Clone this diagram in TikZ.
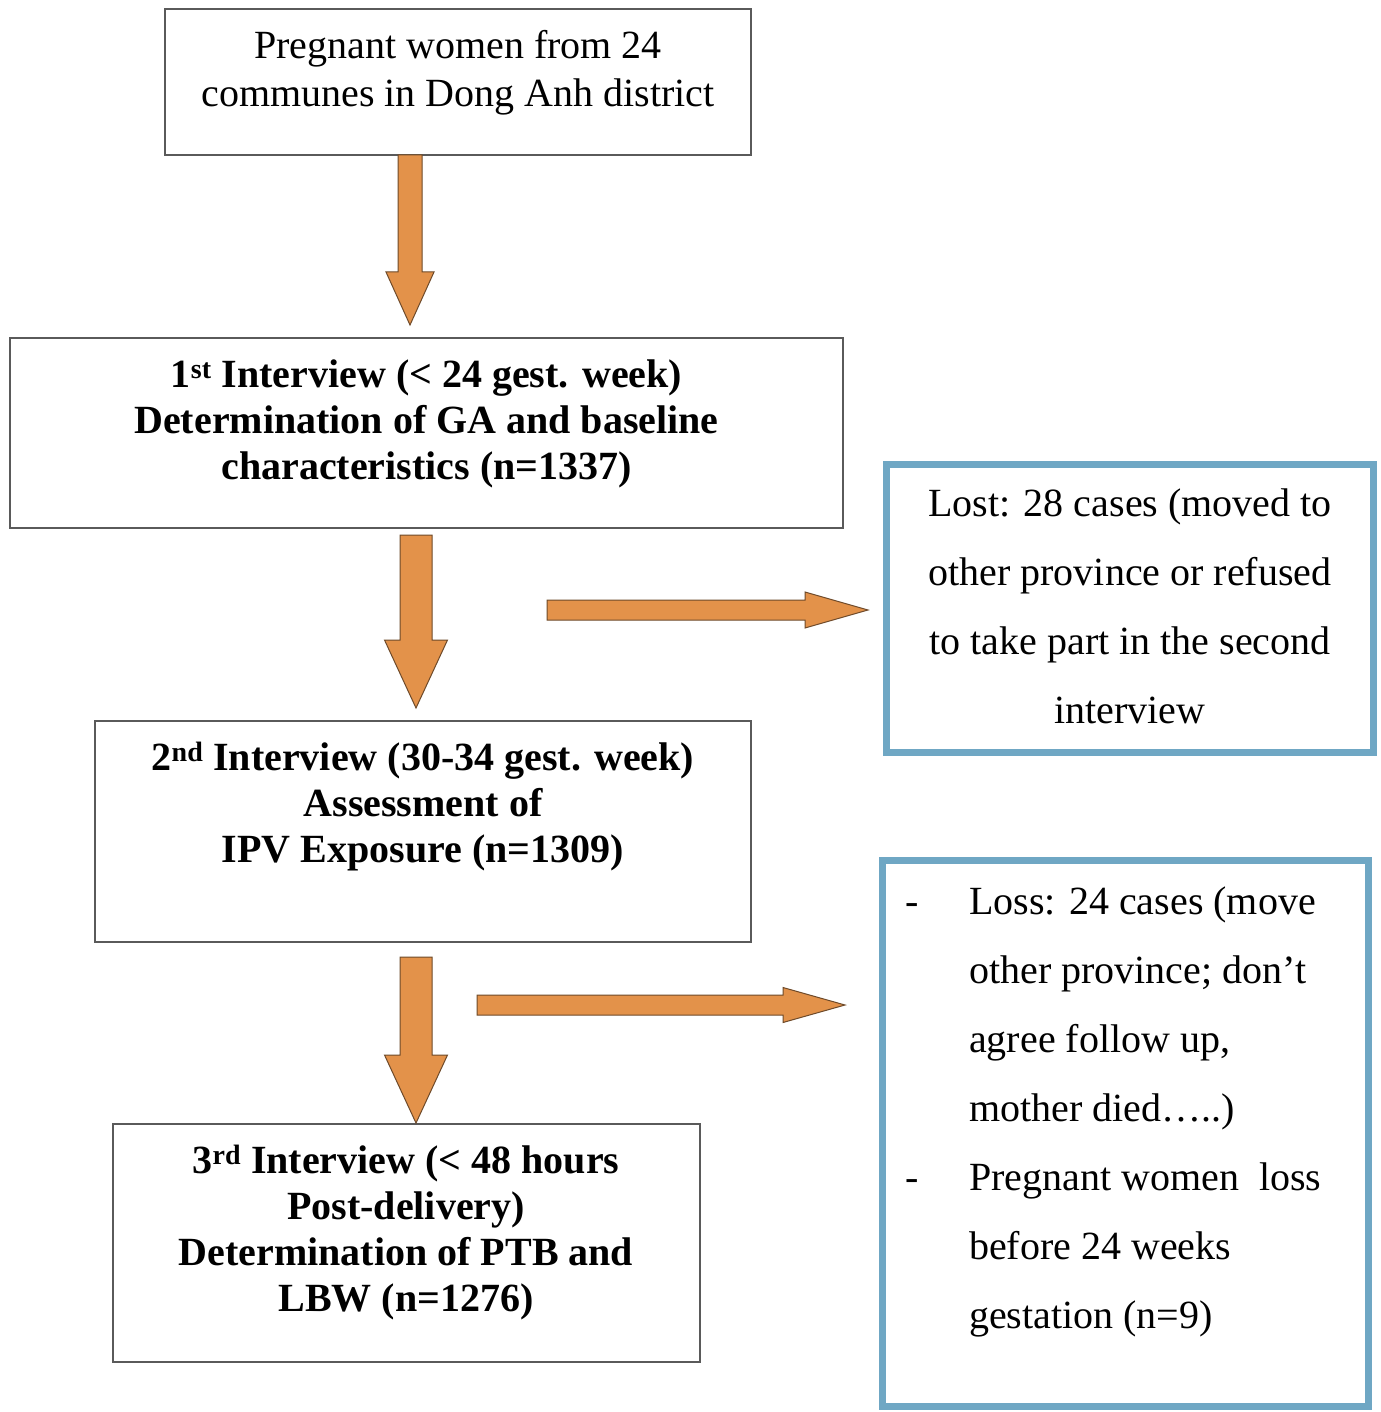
\documentclass[tikz,border=0pt]{standalone}
\usepackage{fontspec}
\setmainfont{Liberation Serif}
\usetikzlibrary{calc}
\definecolor{arrowfill}{HTML}{E3924A}
\definecolor{arrowline}{HTML}{6E4A2A}
\definecolor{bluebord}{HTML}{6FA7C4}
\definecolor{grayline}{HTML}{5A5A5A}
\tikzset{
  graybox/.style={draw=grayline, line width=1.5pt, rectangle, inner sep=0pt},
  bluebox/.style={draw=bluebord, line width=7pt, rectangle, inner sep=0pt},
  plaintxt/.style={align=center, inner sep=0pt, font=\fontsize{40}{48}\selectfont},
  boldtxt/.style={align=center, inner sep=0pt, font=\fontsize{40}{46}\selectfont\bfseries},
  bluetxt/.style={align=center, inner sep=0pt, font=\fontsize{40}{69}\selectfont},
  bluelist/.style={align=left, inner sep=0pt, font=\fontsize{40}{69}\selectfont},
  blockarrow/.style={fill=arrowfill, draw=arrowline, line width=1pt, line join=miter},
}
% vertical block arrow: #1 start, #2 tip, #3 half shaft, #4 half head, #5 head length
\newcommand\vblock[5]{%
  \path[blockarrow] let \p1=(#1), \p2=(#2) in
    (\x1-#3,\y1) -- (\x1+#3,\y1) -- (\x1+#3,\y2+#5) -- (\x1+#4,\y2+#5) --
    (\x2,\y2) -- (\x1-#4,\y2+#5) -- (\x1-#3,\y2+#5) -- cycle;}
% horizontal block arrow
\newcommand\hblock[5]{%
  \path[blockarrow] let \p1=(#1), \p2=(#2) in
    (\x1,\y1+#3) -- (\x2-#5,\y1+#3) -- (\x2-#5,\y1+#4) -- (\x2,\y2) --
    (\x2-#5,\y1-#4) -- (\x2-#5,\y1-#3) -- (\x1,\y1-#3) -- cycle;}
\begin{document}
\begin{tikzpicture}[x=1pt,y=-1pt]
\useasboundingbox[fill=white] (0,0) rectangle (1380,1412);

% gray boxes
\node[graybox, minimum width=586pt, minimum height=146pt] (b1) at (458,82) {};
\node[graybox, minimum width=833pt, minimum height=190pt] (b2) at (426.5,433) {};
\node[graybox, minimum width=656pt, minimum height=221pt] (b3) at (423,831.5) {};
\node[graybox, minimum width=587pt, minimum height=238pt] (b4) at (406.5,1243) {};

% blue boxes
\node[bluebox, minimum width=487pt, minimum height=288pt] (l1) at (1130,608.5) {};
\node[bluebox, minimum width=486pt, minimum height=546pt] (l2) at (1125.5,1133.5) {};

% texts
\node[plaintxt] (t1) at (458,73) {Pregnant women from 24\\communes in Dong Anh district};
\node[boldtxt] (t2) at (426.5,424) {1\textsuperscript{st} Interview (< 24 gest. week)\\Determination of GA and baseline\\characteristics (n=1337)};
\node[boldtxt] (t3) at (423,807) {2\textsuperscript{nd} Interview (30-34 gest. week)\\Assessment of\\IPV Exposure (n=1309)};
\node[boldtxt] (t4) at (406,1233) {3\textsuperscript{rd} Interview (< 48 hours\\Post-delivery)\\Determination of PTB and\\LBW (n=1276)};
\node[bluetxt] (t5) at (1130,606) {Lost: 28 cases (moved to\\other province or refused\\to take part in the second\\interview};
\node[bluelist, anchor=west] (t6) at (969,1112) {%
\llap{-\hspace*{50pt}}Loss: 24 cases (move\\
other province; don’t\\
agree follow up,\\
mother died…..)\\
\llap{-\hspace*{50pt}}Pregnant women\ \ loss\\
before 24 weeks\\
gestation (n=9)};

% connector end points
\coordinate (a1s) at (410,155);  \coordinate (a1e) at (410,325);
\coordinate (a2s) at (416,535);  \coordinate (a2e) at (416,708);
\coordinate (a3s) at (416,957);  \coordinate (a3e) at (416,1123);
\coordinate (h1s) at (547,610);  \coordinate (h1e) at (868,610);
\coordinate (h2s) at (477,1005); \coordinate (h2e) at (845,1005);

\vblock{a1s}{a1e}{12pt}{24pt}{53pt}
\vblock{a2s}{a2e}{16pt}{31.5pt}{68pt}
\vblock{a3s}{a3e}{16pt}{31.5pt}{68pt}
\hblock{h1s}{h1e}{10pt}{18pt}{63pt}
\hblock{h2s}{h2e}{10pt}{17.5pt}{62pt}
\end{tikzpicture}
\end{document}
